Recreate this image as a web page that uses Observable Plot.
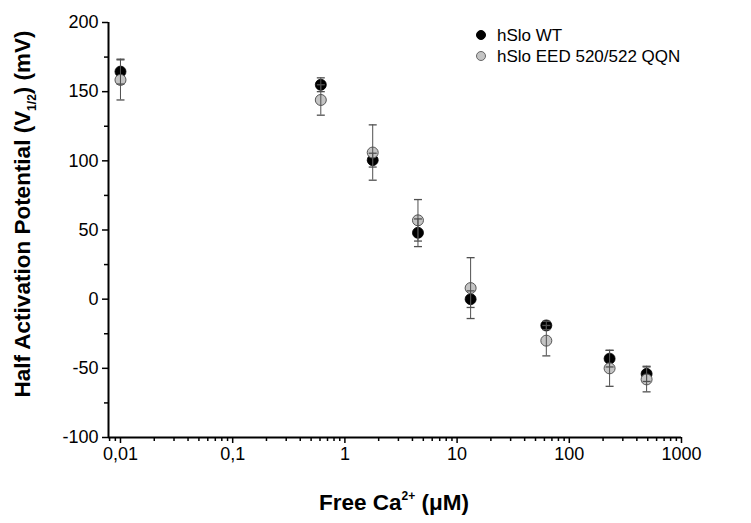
<!DOCTYPE html>
<html>
<head>
<meta charset="utf-8">
<script src="https://cdn.jsdelivr.net/npm/d3@7"></script>
<script src="https://cdn.jsdelivr.net/npm/@observablehq/plot@0.6"></script>
<style>
  html, body { margin: 0; padding: 0; background: #fff; }
  #chart { position: relative; width: 751px; height: 523px; }
</style>
</head>
<body>
<div id="chart"></div>
<script>
// ---- data ----
const freeCa = [0.01, 0.61, 1.77, 4.48, 13.2, 62.4, 228.6, 488.6];
const wtV = [164.5, 155, 100.5, 48, 0, -19, -43, -54];
const wtErr = [9, 5, 5, 10, 6, 3, 6, 5.5];
const qqnV = [158.5, 144, 106, 57, 8, -30, -50, -58];
const qqnErr = [14.5, 11, 20, 15, 22, 11, 13, 9];
const seriesNames = ["hSlo WT", "hSlo EED 520/522 QQN"];
const xMajor = [0.01, 0.1, 1, 10, 100, 1000];
const xLabels = ["0,01", "0,1", "1", "10", "100", "1000"];
const yMajor = [-100, -50, 0, 50, 100, 150, 200];
const yMinor = [-75, -25, 25, 75, 125, 175];
const xDomain = [0.00782, 1000];
const yDomain = [-100, 200];

const xMinor = [];
for (const dec of [0.001, 0.01, 0.1, 1, 10, 100]) {
  for (let m = 2; m <= 9; m++) {
    const v = +(m * dec).toPrecision(6);
    if (v >= xDomain[0] && v <= xDomain[1]) xMinor.push(v);
  }
}

const wt = freeCa.map((x, i) => ({x, y: wtV[i], e: wtErr[i]}));
const qqn = freeCa.map((x, i) => ({x, y: qqnV[i], e: qqnErr[i]}));
const both = wt.concat(qqn);

const capSymbol = {
  draw(context, size) {
    const w = Math.sqrt(size / Math.PI);
    context.moveTo(-w, 0);
    context.lineTo(w, 0);
  }
};
const barColor = "#505050";

const plot = Plot.plot({
  width: 751,
  height: 523,
  marginLeft: 108,
  marginRight: 70,
  marginTop: 22,
  marginBottom: 86,
  x: {type: "log", domain: xDomain, axis: null},
  y: {domain: yDomain, axis: null},
  style: {fontFamily: "'Liberation Sans', Arial, sans-serif", fontSize: "18px", color: "#000", background: "#fff"},
  marks: [
    Plot.axisY({ticks: yMajor, tickSize: 6, tickPadding: 4, tickFormat: d => String(d), fontSize: 18, strokeWidth: 1.5, label: null}),
    Plot.axisY({ticks: yMinor, tickSize: 4, tickFormat: () => "", strokeWidth: 1.5, label: null}),
    Plot.axisX({ticks: xMajor, tickSize: 6, tickPadding: 4, tickFormat: d => xLabels[xMajor.indexOf(d)], fontSize: 18, strokeWidth: 1.5, label: null}),
    Plot.axisX({ticks: xMinor, tickSize: 4, tickFormat: () => "", strokeWidth: 1.5, label: null}),
    Plot.ruleY([yDomain[0]], {stroke: "#000", strokeWidth: 2}),
    Plot.ruleX([xDomain[0]], {stroke: "#000", strokeWidth: 2}),
    Plot.dot(wt, {x: "x", y: "y", r: 5.5, fill: "#000", stroke: "#000", strokeWidth: 0.8}),
    Plot.dot(qqn, {x: "x", y: "y", r: 5.5, fill: "#c4c4c4", stroke: "#555", strokeWidth: 1}),
    Plot.ruleX(both, {x: "x", y1: d => d.y - d.e, y2: d => d.y + d.e, stroke: barColor, strokeWidth: 1}),
    Plot.dot(both, {x: "x", y: d => d.y + d.e, symbol: capSymbol, r: 4, stroke: barColor, strokeWidth: 1.3}),
    Plot.dot(both, {x: "x", y: d => d.y - d.e, symbol: capSymbol, r: 4, stroke: barColor, strokeWidth: 1.3})
  ]
});

document.getElementById("chart").appendChild(plot);

// axis titles and legend
const svg = d3.select(plot);
const ff = "'Liberation Sans', Arial, sans-serif";

const yl = svg.append("text")
  .attr("transform", "translate(30,214) rotate(-90)")
  .attr("text-anchor", "middle")
  .attr("font-family", ff).attr("font-weight", "bold").attr("font-size", 22.5).attr("fill", "#000");
yl.append("tspan").text("Half Activation Potential (V");
yl.append("tspan").attr("font-size", 12).attr("dy", 6).text("1/2");
yl.append("tspan").attr("dy", -6).text(") (mV)");

const xl = svg.append("text")
  .attr("x", 394).attr("y", 510)
  .attr("text-anchor", "middle")
  .attr("font-family", ff).attr("font-weight", "bold").attr("font-size", 22.5).attr("fill", "#000");
xl.append("tspan").text("Free Ca");
xl.append("tspan").attr("font-size", 12).attr("dy", -10).text("2+");
xl.append("tspan").attr("dy", 10).text(" (\u03BCM)");

const leg = svg.append("g").attr("font-family", ff).attr("font-size", 17).attr("text-anchor", "start");
const legFill = ["#000", "#c4c4c4"];
const legStroke = ["#000", "#666"];
seriesNames.forEach((name, i) => {
  const cy = 35 + i * 21;
  leg.append("circle").attr("cx", 481).attr("cy", cy).attr("r", 4.5)
    .attr("fill", legFill[i]).attr("stroke", legStroke[i]).attr("stroke-width", 1);
  leg.append("text").attr("x", 497).attr("y", cy).attr("dy", "0.35em")
    .attr("text-anchor", "start").attr("fill", "#000").text(name);
});
</script>
</body>
</html>
